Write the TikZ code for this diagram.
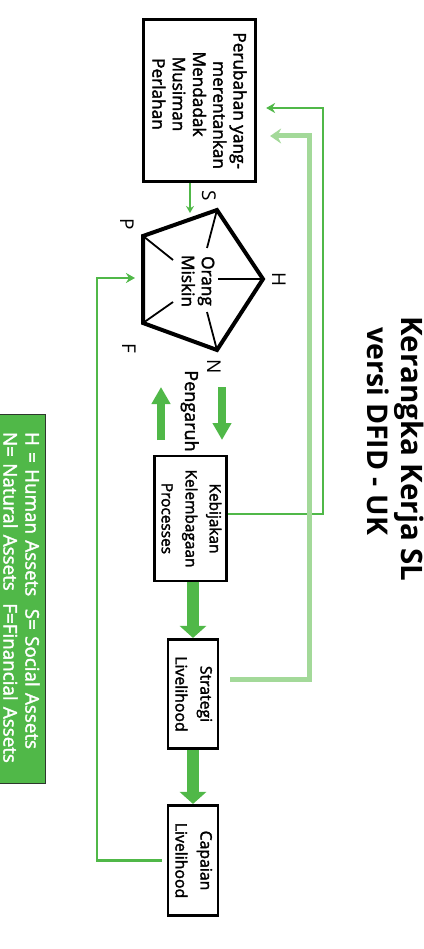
\documentclass[tikz,border=0pt]{standalone}
\usepackage{fontspec}
\setmainfont{Open Sans}
\newfontfamily\medf{Open Sans}[FakeBold=2]
\usepackage{graphicx}
\usetikzlibrary{arrows.meta}
\definecolor{gr}{RGB}{80,184,72}
\definecolor{lgr}{RGB}{163,217,153}
\definecolor{legline}{RGB}{45,55,45}
\newcommand{\myfs}[2]{\fontsize{#1}{#2}\selectfont}
\newcommand{\cl}[1]{\makebox[137pt][l]{\makebox[124pt]{#1}}}
\begin{document}
\begin{tikzpicture}[x=1pt,y=-1pt,
  box/.style={draw=black, line width=2.6pt, fill=white, inner sep=0pt},
  lbl/.style={rotate=-90, anchor=base, inner sep=0pt, font=\myfs{19}{22}},
  thinarr/.style={draw=gr, line width=2.4pt, -{Stealth[length=9pt,width=10pt]}},
  lightarr/.style={draw=lgr, line width=5pt, -{Stealth[length=11pt,width=15pt]}},
  bigarr/.style={draw=gr, line width=12pt, -{Triangle[length=12pt,width=26pt]}},
  pgarr/.style={draw=gr, line width=8pt, -{Triangle[length=17pt,width=18pt]}},
  spoke/.style={line width=1.8pt}
]
\useasboundingbox (0,0) rectangle (423,949);

% title
\node[lbl, font=\bfseries\myfs{29.5}{36}] (t1) at (401,449) {Kerangka Kerja SL};
\node[lbl, font=\bfseries\myfs{28.5}{34}] (t2) at (367,431) {versi DFID - UK};

% boxes
\node[box, line width=3.2pt, minimum width=112pt, minimum height=162pt] (ext) at (199.5,100.5)
  {\rotatebox{-90}{\medf\myfs{17.2}{20.3}\parbox{137pt}{\raggedleft Perubahan yang-\\merentankan\\\cl{Mendadak}\\\cl{Musiman}\\\cl{Perlahan}}}};
\node[box, minimum width=71pt, minimum height=125pt] (keb) at (190.5,518.5)
  {\rotatebox{-90}{\medf\myfs{15.4}{24}\begin{tabular}{@{}c@{}}Kebijakan\\Kelembagaan\\Processes\end{tabular}}};
\node[box, minimum width=49.5pt, minimum height=109.5pt] (str) at (193,694)
  {\rotatebox{-90}{\medf\myfs{15.8}{25}\begin{tabular}{@{}c@{}}Strategi\\Livelihood\end{tabular}}};
\node[box, minimum width=49.5pt, minimum height=110.5pt] (cap) at (193,860.5)
  {\rotatebox{-90}{\medf\myfs{15.8}{25}\begin{tabular}{@{}c@{}}Capaian\\Livelihood\end{tabular}}};

% pentagon
\coordinate (pS) at (217,210);
\coordinate (pH) at (263,279);
\coordinate (pN) at (217,350);
\coordinate (pF) at (143,323);
\coordinate (pP) at (143,236);
\draw[line width=4pt, line join=miter] (pS) -- (pH) -- (pN) -- (pF) -- (pP) -- cycle;
\draw[spoke] (pS) -- (207,248);
\draw[spoke] (pH) -- (218,279);
\draw[spoke] (pN) -- (207,312);
\draw[spoke] (pP) -- (173,260);
\draw[spoke] (pF) -- (173,302);
\node[rotate=-90, align=center, inner sep=0pt, font=\medf\myfs{17.2}{20}] (poor) at (198,281) {Orang\\Miskin};

\node[lbl] (lS) at (202,195.5) {S};
\node[lbl] (lH) at (272,280) {H};
\node[lbl] (lN) at (207,367) {N};
\node[lbl] (lP) at (120,224) {P};
\node[lbl] (lF) at (122,348) {F};
\node[lbl, font=\medf\myfs{18}{22}] (peng) at (185,411) {Pengaruh};

% Pengaruh arrows
\coordinate (dA) at (222,387);
\coordinate (dB) at (222,440);
\coordinate (uA) at (161,440);
\coordinate (uB) at (161,387);
\draw[pgarr] (dA) -- (dB);
\draw[pgarr] (uA) -- (uB);

% main flow
\draw[bigarr] (keb.south -| str.north) -- (str.north);
\draw[bigarr] (str.south) -- (cap.north);

% feedback connectors
\coordinate (sTip) at (190,213);
\draw[draw=gr, line width=2pt, -{Stealth[length=7pt,width=8pt]}] (ext.south -| sTip) -- (sTip);

\draw[thinarr] ([yshift=4.5pt]keb.east) -- ++(95,0) |- ([xshift=9pt,yshift=-7.5pt]ext.east);
\draw[lightarr] ([xshift=11pt,yshift=15pt]str.east) -- ++(79,0) |- ([xshift=13pt,yshift=-35.5pt]ext.east);
\coordinate (pIn) at (135,278);
\draw[thinarr] ([xshift=-5pt]cap.west) -- ++(-65,0) |- (pIn);

% legend
\node[draw=legline, line width=0.8pt, fill=gr, text=white, rotate=-90,
      minimum width=369pt, minimum height=47pt, text width=351pt, inner xsep=9pt,
      align=left, font=\medf\myfs{18.8}{22}] (leg) at (21.5,598.5)
  {\hspace*{9pt}H = Human Assets\ \ S= Social Assets\\\hspace*{9pt}N= Natural Assets\ \ F=Financial Assets};
\end{tikzpicture}
\end{document}
